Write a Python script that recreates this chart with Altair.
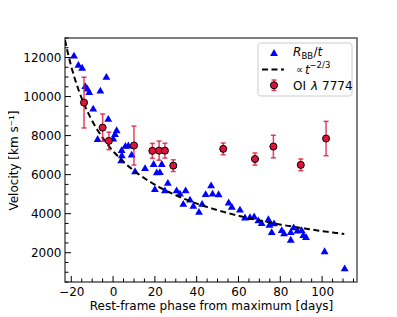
import altair as alt
import numpy as np
import pandas as pd

# Blackbody-radius velocities (R_BB / t)
blue_phase = [-18.7, -16.6, -14.8, -13.3, -12.3, -11.4, -9.5, -7.4, -6.1, -3.2,
              -2.3, 0.1, 0.9, 1.7, 3.9, 4.2, 4.1, 5.9, 7.3, 8.9,
              10.5, 15.3, 19.4, 20.0, 20.9, 22.4, 23.3, 24.8, 26.2, 30.4,
              32.0, 33.6, 34.7, 36.8, 38.4, 41.1, 42.6, 44.3, 46.9, 47.6,
              50.5, 55.3, 56.8, 60.7, 63.1, 65.5, 67.5, 69.5, 71.1, 74.3,
              74.8, 75.9, 77.0, 80.7, 81.8, 85.0, 85.0, 86.4, 88.2, 90.2,
              91.0, 92.3, 101.2, 110.8]
blue_vel = [12120, 11650, 11500, 10560, 10430, 10250, 9410, 7850, 10330, 11030,
            8880, 7870, 8100, 8300, 6760, 7020, 7280, 7500, 7520, 7050,
            6200, 6360, 6570, 5280, 6140, 6150, 6570, 5220, 5600, 5220,
            5050, 4530, 5220, 4750, 4430, 4120, 4530, 5030, 5480, 5050,
            5020, 4600, 4380, 4230, 3830, 3850, 3880, 3680, 3540, 3740,
            3450, 3080, 3530, 3180, 3020, 2690, 3080, 3320, 3160, 3180,
            2930, 2830, 2100, 1220]

# O I 7774 absorption velocities
oi_phase = [-13.9, -5.0, -2.0, 10.0, 18.8, 22.0, 24.8, 28.8, 52.7, 67.9, 76.7, 89.8, 101.9]
oi_vel = [9690, 8410, 7730, 7490, 7220, 7230, 7230, 6460, 7320, 6800, 7440, 6500, 7850]
oi_err = [1300, 700, 450, 1000, 380, 490, 380, 300, 300, 310, 580, 300, 880]

# power-law t^(-2/3) curve parameters (t measured from explosion)
fit_norm = 83600.0
fit_t0 = 39.5
fit_start, fit_end = -23.0, 110.6

x_major = [-20, 0, 20, 40, 60, 80, 100]
x_minor = [v for v in range(-20, 116, 5) if v % 20 != 0]
y_major = [2000, 4000, 6000, 8000, 10000, 12000]
y_minor = [v for v in range(500, 13001, 500) if v % 2000 != 0]

W, H = 292, 244
FONT = "DejaVu Sans"
RED = "#DC143C"

blue_df = pd.DataFrame({"phase": blue_phase, "vel": blue_vel})
oi_df = pd.DataFrame({"phase": oi_phase, "vel": oi_vel, "err": oi_err})
oi_df["lo"] = oi_df["vel"] - oi_df["err"]
oi_df["hi"] = oi_df["vel"] + oi_df["err"]
fit_phase = np.linspace(fit_start, fit_end, 200)
fit_df = pd.DataFrame({"phase": fit_phase,
                       "vel": fit_norm * (fit_phase + fit_t0) ** (-2.0 / 3.0)})

xs = alt.Scale(domain=[-23, 116.7], nice=False, zero=False)
ys = alt.Scale(domain=[500, 13000], nice=False, zero=False)

x_axis = alt.Axis(values=x_major, format="d", title="Rest-frame phase from maximum [days]",
                  labelPadding=4, titlePadding=3)
y_axis = alt.Axis(values=y_major, format="d", title="Velocity [km s⁻¹]",
                  labelPadding=4, titlePadding=2)


def X(field):
    return alt.X(field, scale=xs, axis=x_axis)


def Y(field):
    return alt.Y(field, scale=ys, axis=y_axis)


blue = alt.Chart(blue_df).mark_point(shape="triangle-up", filled=True, color="#0000FF",
                                     size=62, opacity=1).encode(x=X("phase:Q"), y=Y("vel:Q"))

fit = alt.Chart(fit_df).mark_line(color="black", strokeWidth=2, strokeDash=[6, 3.5],
                                  clip=True).encode(x=X("phase:Q"), y=Y("vel:Q"))

bars = alt.Chart(oi_df).mark_rule(color=RED, strokeWidth=1.5, opacity=0.8).encode(
    x=X("phase:Q"), y=Y("lo:Q"), y2="hi:Q")
cap_lo = alt.Chart(oi_df).mark_tick(color=RED, orient="horizontal", size=5,
                                    thickness=1.5, opacity=0.8).encode(x=X("phase:Q"), y=Y("lo:Q"))
cap_hi = alt.Chart(oi_df).mark_tick(color=RED, orient="horizontal", size=5,
                                    thickness=1.5, opacity=0.8).encode(x=X("phase:Q"), y=Y("hi:Q"))
oi_pts = alt.Chart(oi_df).mark_point(shape="circle", filled=True, fill=RED, stroke="black",
                                     strokeWidth=1, size=50, opacity=1).encode(
    x=X("phase:Q"), y=Y("vel:Q"))


# inward ticks
def xticks(vals, length, width):
    return alt.Chart(pd.DataFrame({"t": vals})).mark_rule(color="black", strokeWidth=width).encode(
        x=X("t:Q"), y=alt.value(H), y2=alt.value(H - length))


def yticks(vals, length, width):
    return alt.Chart(pd.DataFrame({"t": vals})).mark_rule(color="black", strokeWidth=width).encode(
        y=Y("t:Q"), x=alt.value(0), x2=alt.value(length))


ticks = [xticks(x_major, 6, 1), xticks(x_minor, 3.5, 1),
         yticks(y_major, 6, 1), yticks(y_minor, 3.5, 1)]

# legend (hand-built to allow sub/superscripts)
one = alt.Data(values=[{"k": 1}])
leg_box = alt.Chart(one).mark_rect(fill="white", fillOpacity=0.8, stroke="#cccccc",
                                   strokeWidth=1, cornerRadius=3).encode(
    x=alt.value(193), x2=alt.value(287), y=alt.value(5), y2=alt.value(58))
leg_tri = alt.Chart(one).mark_point(shape="triangle-up", filled=True, color="#0000FF",
                                    size=62, opacity=1).encode(x=alt.value(209), y=alt.value(14.5))
leg_dash = alt.Chart(one).mark_rule(color="black", strokeWidth=2, strokeDash=[6, 3.5]).encode(
    x=alt.value(197), x2=alt.value(219), y=alt.value(31.5))
leg_bar = alt.Chart(one).mark_rule(color=RED, strokeWidth=1.5, opacity=0.8).encode(
    x=alt.value(209), y=alt.value(42), y2=alt.value(52.5))
leg_cap1 = alt.Chart(one).mark_rule(color=RED, strokeWidth=1.5, opacity=0.8).encode(
    x=alt.value(206.5), x2=alt.value(211.5), y=alt.value(42))
leg_cap2 = alt.Chart(one).mark_rule(color=RED, strokeWidth=1.5, opacity=0.8).encode(
    x=alt.value(206.5), x2=alt.value(211.5), y=alt.value(52.5))
leg_circ = alt.Chart(one).mark_point(shape="circle", filled=True, fill=RED, stroke="black",
                                     strokeWidth=1, size=50, opacity=1).encode(
    x=alt.value(209), y=alt.value(47.3))


def txt(s, x, y, size=12, style="normal"):
    return alt.Chart(one).mark_text(align="left", baseline="middle", font=FONT,
                                    fontSize=size, fontStyle=style, color="black").encode(
        x=alt.value(x), y=alt.value(y), text=alt.value(s))


leg_txt = [
    txt("R", 228, 14, 12, "italic"),
    txt("BB", 236.5, 17.5, 8.5),
    txt("/", 248.5, 14, 12),
    txt("t", 252.5, 14, 12, "italic"),
    txt("∝", 231, 32, 10),
    txt("t", 240, 32, 12, "italic"),
    txt("−2/3", 244.5, 27, 8.5),
    txt("OI", 228, 47.5, 12),
    txt("λ", 246, 47.5, 12, "italic"),
    txt("7774", 257, 47.5, 12),
]

chart = alt.layer(
    blue, fit, bars, cap_lo, cap_hi, oi_pts, *ticks,
    leg_box, leg_tri, leg_dash, leg_bar, leg_cap1, leg_cap2, leg_circ, *leg_txt
).properties(
    width=W, height=H,
    autosize=alt.AutoSizeParams(type="none"),
    padding={"left": 57, "top": 30, "right": 25, "bottom": 31},
).configure_view(
    stroke="#555555", strokeWidth=1.5
).configure_axis(
    domain=False, grid=False, ticks=False,
    labelFont=FONT, labelFontSize=12, labelColor="black",
    titleFont=FONT, titleFontSize=12, titleFontWeight="normal", titleColor="black",
)

chart.save("out.html", embed_options={"renderer": "svg", "actions": False})
